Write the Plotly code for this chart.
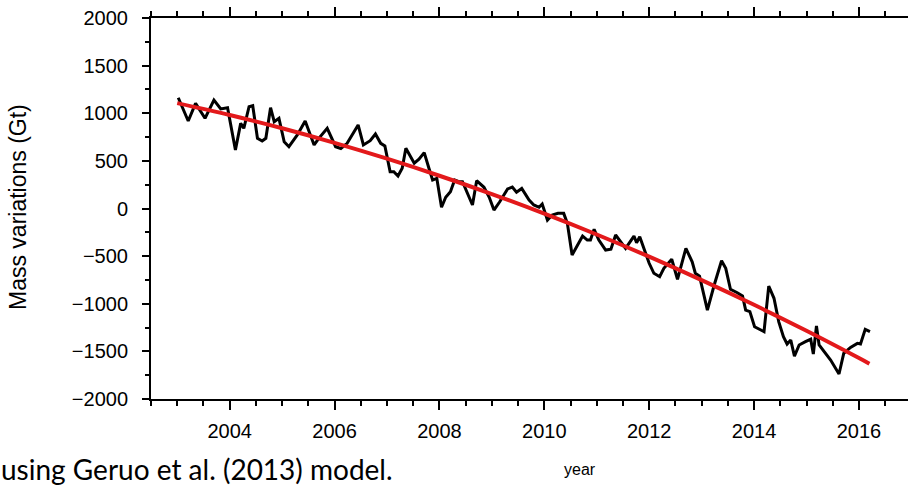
import plotly.graph_objects as go

# Monthly mass-variation series (decimal year, Gt)
years = [
    2003.02, 2003.21, 2003.35, 2003.53, 2003.70, 2003.83, 2003.96, 2004.11, 2004.21, 2004.27,
    2004.37, 2004.44, 2004.53, 2004.62, 2004.69, 2004.78, 2004.85, 2004.94, 2005.04, 2005.13,
    2005.29, 2005.44, 2005.61, 2005.70, 2005.86, 2006.02, 2006.12, 2006.24, 2006.45, 2006.55,
    2006.68, 2006.78, 2006.88, 2006.96, 2007.06, 2007.13, 2007.21, 2007.29, 2007.36, 2007.45,
    2007.52, 2007.61, 2007.71, 2007.80, 2007.87, 2007.95, 2008.04, 2008.12, 2008.21, 2008.29,
    2008.37, 2008.44, 2008.53, 2008.63, 2008.71, 2008.85, 2008.95, 2009.04, 2009.15, 2009.30,
    2009.39, 2009.47, 2009.57, 2009.71, 2009.80, 2009.90, 2009.96, 2010.06, 2010.15, 2010.26,
    2010.37, 2010.44, 2010.53, 2010.63, 2010.73, 2010.82, 2010.88, 2010.95, 2011.04, 2011.17,
    2011.27, 2011.36, 2011.46, 2011.55, 2011.71, 2011.76, 2011.82, 2011.90, 2012.00, 2012.09,
    2012.20, 2012.28, 2012.43, 2012.54, 2012.70, 2012.82, 2012.88, 2012.96, 2013.11, 2013.24,
    2013.38, 2013.46, 2013.55, 2013.68, 2013.78, 2013.84, 2013.92, 2014.01, 2014.13, 2014.19,
    2014.28, 2014.38, 2014.47, 2014.56, 2014.63, 2014.70, 2014.77, 2014.86, 2014.98, 2015.08,
    2015.13, 2015.19, 2015.24, 2015.32, 2015.46, 2015.62, 2015.71, 2015.84, 2015.97, 2016.03,
    2016.12, 2016.21,
]
mass = [
    1163, 919, 1104, 947, 1139, 1045, 1058, 614, 894, 842,
    1069, 1079, 737, 709, 737, 1058, 911, 947, 701, 649,
    772, 919, 667, 737, 842, 649, 630, 684, 877, 667,
    712, 782, 684, 656, 386, 386, 341, 422, 632, 544,
    475, 517, 586, 422, 299, 317, 13, 118, 176, 299,
    281, 281, 160, 37, 292, 223, 118, -16, 71, 205,
    225, 170, 210, 89, 37, 13, 47, -121, -68, -51,
    -51, -156, -488, -383, -289, -331, -331, -219, -331, -436,
    -428, -278, -348, -418, -289, -359, -296, -418, -575, -680,
    -716, -628, -533, -743, -418, -560, -680, -710, -1066, -803,
    -548, -628, -848, -884, -919, -1066, -1083, -1241, -1276, -1293,
    -814, -943, -1188, -1346, -1423, -1381, -1549, -1433, -1398, -1373,
    -1528, -1234, -1433, -1486, -1591, -1738, -1521, -1458, -1416, -1423,
    -1269, -1293,
]

# Fitted trend (accelerating loss)
trend_years = [2003.0, 2004, 2005, 2006, 2007, 2008, 2009, 2010, 2011, 2012, 2013, 2014, 2015, 2016, 2016.2]
trend_mass = [1106, 981, 842, 689, 523, 344, 152, -54, -273, -506, -752, -1011, -1284, -1570, -1629]

fig = go.Figure()
fig.add_trace(go.Scatter(x=years, y=mass, mode="lines",
                         line=dict(color="black", width=3), showlegend=False))
fig.add_trace(go.Scatter(x=trend_years, y=trend_mass, mode="lines",
                         line=dict(color="#e3191b", width=4, shape="spline"), showlegend=False))

W, H = 908, 485
L, T, B = 151, 18, 86
plot_w = W - L
plot_h = H - T - B

font_axis = "Liberation Sans, Arial, Helvetica, sans-serif"

fig.update_layout(
    width=W, height=H,
    margin=dict(l=L, r=0, t=T, b=B),
    paper_bgcolor="white", plot_bgcolor="white",
    font=dict(family=font_axis, size=20, color="black"),
    xaxis=dict(
        range=[2002.5, 2002.5 + plot_w / 52.44],
        tick0=2004, dtick=2,
        ticks="outside", ticklen=9, tickwidth=1.5, tickcolor="black",
        showline=True, linewidth=2, linecolor="black", mirror="ticks",
        showgrid=False, zeroline=False,
        ticklabelstandoff=4,
        minor=dict(tick0=2002.5, dtick=0.5, ticks="outside", ticklen=5,
                   tickwidth=1.5, tickcolor="black", showgrid=False),
    ),
    yaxis=dict(
        range=[-2000, 2000],
        tick0=0, dtick=500,
        ticks="outside", ticklen=7, tickwidth=1.5, tickcolor="black",
        showline=True, linewidth=2, linecolor="black",
        showgrid=False, zeroline=False,
        ticklabelstandoff=10,
        minor=dict(dtick=250, ticks="outside", ticklen=4,
                   tickwidth=1.5, tickcolor="black", showgrid=False),
    ),
)

def px_x(x):
    return (x - L) / plot_w

def px_y(y):
    return (T + plot_h - y) / plot_h

fig.add_annotation(text="Mass variations (Gt)", textangle=-90,
                   xref="paper", yref="paper", x=px_x(18), y=px_y(207),
                   xanchor="center", yanchor="middle", showarrow=False,
                   font=dict(family=font_axis, size=23, color="black"))
fig.add_annotation(text="year", xref="paper", yref="paper",
                   x=px_x(580), y=px_y(469), xanchor="center", yanchor="middle",
                   showarrow=False, font=dict(family=font_axis, size=16, color="black"))
fig.add_annotation(text="using Geruo et al. (2013) model.", xref="paper", yref="paper",
                   x=px_x(-1), y=px_y(469), xanchor="left", yanchor="middle",
                   showarrow=False, font=dict(family="Lato, Carlito, sans-serif", size=28, color="black"))

fig.write_html("out.html")
